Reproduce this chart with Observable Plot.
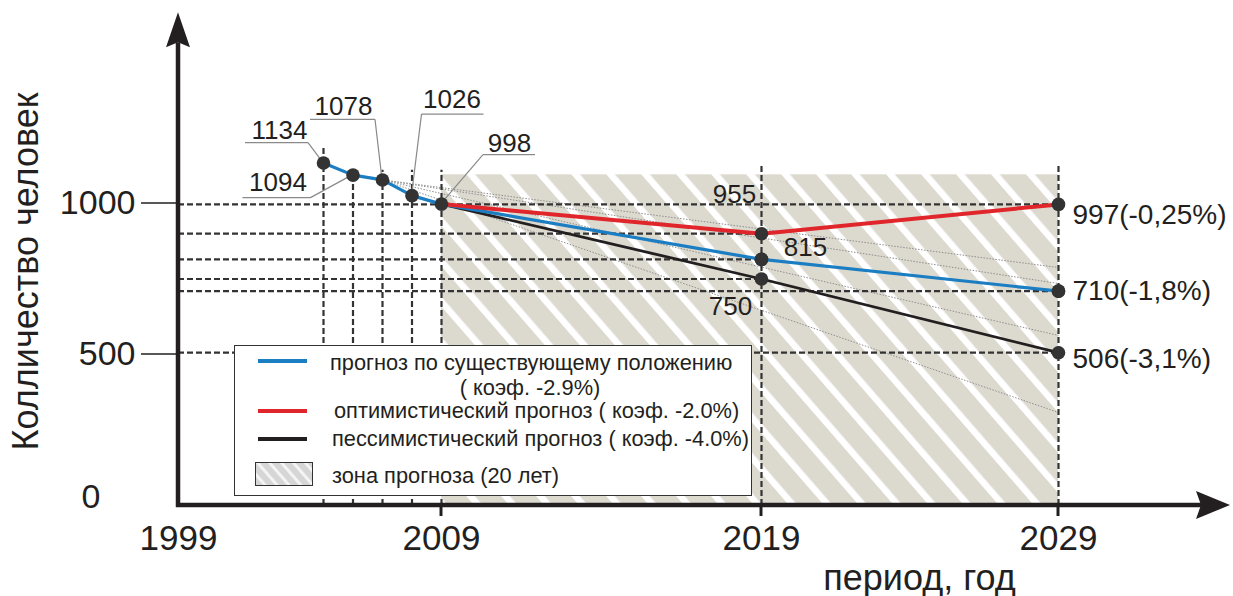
<!DOCTYPE html>
<html>
<head>
<meta charset="utf-8">
<script src="https://cdn.jsdelivr.net/npm/d3@7"></script>
<script src="https://cdn.jsdelivr.net/npm/@observablehq/plot@0.6"></script>
<style>
  body { margin: 0; background: #fff; font-family: "Liberation Sans", Arial, sans-serif; }
  #wrap { position: relative; width: 1233px; height: 596px; overflow: hidden; background: #fff; }
  #legend { position: absolute; left: 234px; top: 345px; width: 518px; height: 151px; box-sizing: border-box;
            border: 1.5px solid #333; background: #fff; color: #231f20; font-size: 21.8px; }
  #legend .t { position: absolute; white-space: nowrap; line-height: 22px; }
  #legend .sw { position: absolute; height: 4px; width: 49px; }
</style>
</head>
<body>
<div id="wrap"></div>
<script>
// ---------- data ----------
const histYears   = [2005, 2006, 2007, 2008, 2009];
const histValues  = [1134, 1094, 1078, 1026, 998];
const histLabels  = ["1134", "1094", "1078", "1026", "998"];

const forecastYears     = [2009, 2019, 2029];
const baseValues        = [998, 815, 710];   // прогноз по существующему положению
const optimisticValues  = [998, 900, 997];   // оптимистический
const pessimisticValues = [998, 750, 506];   // пессимистический

const midLabels = ["955", "815", "750"];                       // 2019: optimistic, base, pessimistic
const endLabels = ["997(-0,25%)", "710(-1,8%)", "506(-3,1%)"];  // 2029: optimistic, base, pessimistic

const trendStartYear = 2007, trendStartValue = 1078;
const trendEndValues = [788, 735, 563, 308];   // thin dotted trend lines ending in 2029

const xTickYears  = [1999, 2009, 2019, 2029];
const yTickValues = [1000, 500];
const yZeroLabel  = 0;
const zoneFrom = 2009, zoneTo = 2029, zoneTop = 1095;

const yTitle = "Колличество человек";
const xTitle = "период, год";
const legendTexts = [
  ["прогноз по существующему положению", "( коэф. -2.9%)"],
  ["оптимистический прогноз ( коэф. -2.0%)"],
  ["пессимистический прогноз ( коэф. -4.0%)"],
  ["зона прогноза (20 лет)"]
];

// ---------- derived tables ----------
const BLUE = "#1b7dc2", RED = "#e0262b", BLACK = "#231f20", TXT = "#231f20";
const blueLine = histYears.map((yr, i) => ({year: yr, value: histValues[i]}))
  .concat(forecastYears.slice(1).map((yr, i) => ({year: yr, value: baseValues[i + 1]})));
const redLine = forecastYears.map((yr, i) => ({year: yr, value: optimisticValues[i]}));
const blackLine = forecastYears.map((yr, i) => ({year: yr, value: pessimisticValues[i]}));
const forecastPoints = [];
[optimisticValues, baseValues, pessimisticValues].forEach(vals =>
  forecastYears.slice(1).forEach((yr, i) => forecastPoints.push({year: yr, value: vals[i + 1]})));
const allPoints = blueLine.concat(forecastPoints);

const verticalGuides = histYears.map((yr, i) => ({year: yr, top: i === 0 ? histValues[i] + 58 : i === 1 ? histValues[i] : 1110}))
  .concat(forecastYears.slice(1).map(yr => ({year: yr, top: 1125})));
const horizontalGuides = forecastPoints;
const midPoints = [
  {year: 2019, value: optimisticValues[1], label: midLabels[0]},
  {year: 2019, value: baseValues[1], label: midLabels[1]},
  {year: 2019, value: pessimisticValues[1], label: midLabels[2]}];
const endPoints = [
  {year: 2029, value: optimisticValues[2], label: endLabels[0]},
  {year: 2029, value: baseValues[2], label: endLabels[1]},
  {year: 2029, value: pessimisticValues[2], label: endLabels[2]}];

// label layout (pixel offsets from each dot)
const histLayout = [
  {tx: -44, ty: -32, u1: -78, u2: -15, uy: -20, lx: -15},
  {tx: -75, ty: 8,   u1: -110, u2: -42, uy: 23, lx: -42},
  {tx: -39, ty: -73, u1: -72, u2: -7, uy: -60, lx: -7},
  {tx: 40,  ty: -96, u1: 10, u2: 72, uy: -81, lx: 10},
  {tx: 68,  ty: -60, u1: 42, u2: 94, uy: -49, lx: 42}
];
const midLayout = [{dx: -27, dy: -39}, {dx: 44, dy: -12}, {dx: -31, dy: 28}];
const endLayout = [{dy: 11}, {dy: 0}, {dy: 6}];

// ---------- custom render pieces ----------
function defsMark() {
  const g = d3.create("svg:g");
  const p = g.append("defs").append("pattern").attr("id", "zoneHatch")
    .attr("patternUnits", "userSpaceOnUse").attr("width", 26.4).attr("height", 20)
    .attr("patternTransform", "rotate(-41)");
  p.append("rect").attr("width", 26.4).attr("height", 20).attr("fill", "#dcd9cf");
  p.append("rect").attr("width", 6.5).attr("height", 20).attr("fill", "#ffffff");
  return g.node();
}
function leaderMark(index, scales) {
  const {x, y} = scales;
  const g = d3.create("svg:g").attr("stroke", "#8a8a8a").attr("stroke-width", 1.2).attr("fill", "none");
  histLayout.forEach((L, i) => {
    const px = x(histYears[i]), py = y(histValues[i]);
    g.append("path").attr("d", `M${px + L.u1},${py + L.uy}H${px + L.u2}M${px + L.lx},${py + L.uy}L${px},${py}`);
  });
  return g.node();
}
function axesMark(index, scales) {
  const {x, y} = scales;
  const x0 = x(1999), y0 = y(0), xEnd = x(2035), yEnd = y(1632);
  const g = d3.create("svg:g").attr("fill", BLACK).attr("stroke", BLACK);
  g.append("line").attr("x1", x0).attr("x2", x0).attr("y1", y0 + 2).attr("y2", yEnd + 30).attr("stroke-width", 4.5);
  g.append("line").attr("x1", x0 - 2).attr("x2", xEnd - 28).attr("y1", y0).attr("y2", y0).attr("stroke-width", 4.5);
  g.append("path").attr("stroke", "none")
    .attr("d", `M${x0},${yEnd}L${x0 + 12},${yEnd + 35}L${x0},${yEnd + 30}L${x0 - 12},${yEnd + 35}Z`);
  g.append("path").attr("stroke", "none")
    .attr("d", `M${xEnd},${y0}L${xEnd - 34},${y0 - 14}L${xEnd - 29},${y0}L${xEnd - 34},${y0 + 14}Z`);
  yTickValues.forEach(v => g.append("line").attr("x1", x0 - 37).attr("x2", x0).attr("y1", y(v)).attr("y2", y(v)).attr("stroke-width", 1.3));
  xTickYears.slice(1).forEach(v => g.append("line").attr("x1", x(v)).attr("x2", x(v)).attr("y1", y0).attr("y2", y0 + 11).attr("stroke-width", 3));
  return g.node();
}

// ---------- plot ----------
const chart = Plot.plot({
  width: 1233, height: 596, margin: 0,
  x: {type: "linear", domain: [1999, 2005, 2009, 2019, 2029, 2035], range: [178, 323, 441, 761, 1058, 1230], axis: null},
  y: {type: "linear", domain: [0, 1000], range: [505, 203], axis: null},
  style: {fontFamily: "Liberation Sans, Arial, sans-serif", background: "#fff", color: TXT},
  marks: [
    defsMark,
    Plot.rect([{x1: zoneFrom, x2: zoneTo, top: zoneTop}], {x1: "x1", x2: "x2", y1: 0, y2: "top", fill: "url(#zoneHatch)"}),
    Plot.link(trendEndValues, {x1: trendStartYear, y1: trendStartValue, x2: 2029, y2: d => d,
      stroke: "#8f8f8f", strokeWidth: 1, strokeDasharray: "1.5,1.5"}),
    Plot.ruleX(verticalGuides, {x: "year", y1: 0, y2: "top", stroke: "#333", strokeWidth: 2.2, strokeDasharray: "6,3"}),
    Plot.ruleY(horizontalGuides, {y: "value", x1: 1999, x2: "year", stroke: "#333", strokeWidth: 2.2, strokeDasharray: "6,3"}),
    Plot.line(blackLine, {x: "year", y: "value", stroke: BLACK, strokeWidth: 2.8}),
    Plot.line(blueLine, {x: "year", y: "value", stroke: BLUE, strokeWidth: 3.2}),
    Plot.line(redLine, {x: "year", y: "value", stroke: RED, strokeWidth: 4}),
    leaderMark,
    Plot.dot(allPoints, {x: "year", y: "value", r: 6.8, fill: "#333", stroke: "none"}),
    ...histLabels.map((lab, i) => Plot.text([lab], {x: () => histYears[i], y: () => histValues[i], text: d => d,
      dx: histLayout[i].tx, dy: histLayout[i].ty, fontSize: 26, fill: TXT})),
    ...midPoints.map((p, i) => Plot.text([p], {x: "year", y: "value", text: "label",
      dx: midLayout[i].dx, dy: midLayout[i].dy, fontSize: 26, fill: TXT})),
    ...endPoints.map((p, i) => Plot.text([p], {x: "year", y: "value", text: "label", textAnchor: "start",
      dx: 14, dy: endLayout[i].dy, fontSize: 28, fill: TXT})),
    axesMark,
    Plot.text(yTickValues, {x: 1999, y: d => d, text: d => String(d), textAnchor: "end", dx: -43, fontSize: 34, fill: TXT}),
    Plot.text([yZeroLabel], {x: 1999, y: d => d, text: d => String(d), textAnchor: "end", dx: -78, dy: -8, fontSize: 34, fill: TXT}),
    Plot.text(xTickYears, {x: d => d, y: 0, text: d => String(d), dy: 33, fontSize: 35, fill: TXT}),
    Plot.text([xTitle], {frameAnchor: "bottom-left", text: d => d, dx: 919, dy: -7, lineAnchor: "bottom", textAnchor: "middle", fontSize: 36, fill: TXT}),
    Plot.text([yTitle], {frameAnchor: "left", text: d => d, dx: 37, dy: -27, rotate: -90, lineAnchor: "bottom", textAnchor: "middle", fontSize: 36, fill: TXT})
  ]
});
const wrap = document.getElementById("wrap");
wrap.appendChild(chart);

// ---------- legend (overlaid inside the plot) ----------
const legend = document.createElement("div");
legend.id = "legend";
legend.innerHTML = `
  <div class="sw" style="left:23px;top:13px;background:${BLUE}"></div>
  <div class="t" style="left:95px;width:400px;text-align:center;top:6px">${legendTexts[0][0]}</div>
  <div class="t" style="left:95px;width:400px;text-align:center;top:31px">${legendTexts[0][1]}</div>
  <div class="sw" style="left:23px;top:63px;background:${RED}"></div>
  <div class="t" style="left:99px;top:54px">${legendTexts[1][0]}</div>
  <div class="sw" style="left:23px;top:91px;background:${BLACK}"></div>
  <div class="t" style="left:97px;top:82px">${legendTexts[2][0]}</div>
  <svg style="position:absolute;left:20px;top:116px" width="58" height="24">
    <defs><pattern id="legHatch" patternUnits="userSpaceOnUse" width="9" height="10" patternTransform="rotate(-41)">
      <rect width="9" height="10" fill="#d6d6d6"/><rect width="3" height="10" fill="#f4f4f4"/></pattern></defs>
    <rect x="0.5" y="0.5" width="57" height="23" fill="url(#legHatch)" stroke="#333" stroke-width="1"/>
  </svg>
  <div class="t" style="left:97px;top:119px">${legendTexts[3][0]}</div>`;
wrap.appendChild(legend);
</script>
</body>
</html>
